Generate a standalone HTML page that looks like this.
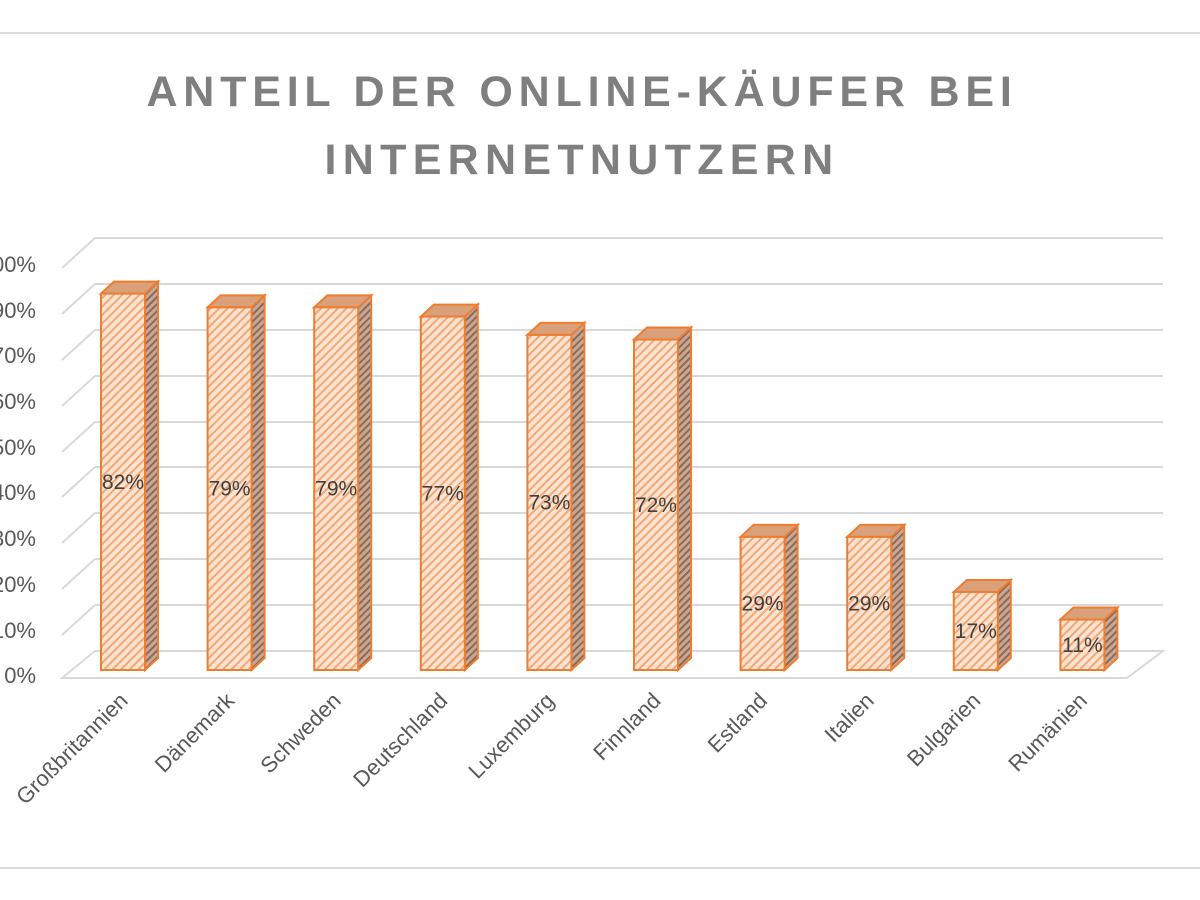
<!DOCTYPE html>
<html><head><meta charset="utf-8"><style>body{margin:0;background:#fff}svg{display:block}</style></head><body>
<svg width="1200" height="900" xmlns="http://www.w3.org/2000/svg" font-family="Liberation Sans, sans-serif">
<defs>
<pattern id="h" width="6" height="6" patternUnits="userSpaceOnUse" patternTransform="rotate(45)">
<rect width="6" height="6" fill="#fbe3d0"/><rect width="2" height="6" fill="#f0a878"/></pattern>
<pattern id="hs" width="5" height="5" patternUnits="userSpaceOnUse" patternTransform="rotate(45)">
<rect width="5" height="5" fill="#c8a894"/><rect width="2" height="5" fill="#8a6a58"/></pattern>
</defs>
<rect width="1200" height="900" fill="#fff"/>
<line x1="0" y1="33" x2="1200" y2="33" stroke="#ddd" stroke-width="2"/>
<line x1="0" y1="868" x2="1200" y2="868" stroke="#ddd" stroke-width="2"/>
<text x="582" y="106" text-anchor="middle" font-size="43" font-weight="bold" fill="#7f7f7f" letter-spacing="5.8">ANTEIL DER ONLINE-KÄUFER BEI</text>
<text x="582" y="174" text-anchor="middle" font-size="43" font-weight="bold" fill="#7f7f7f" letter-spacing="6.3">INTERNETNUTZERN</text>
<g stroke="#d9d9d9" stroke-width="2" fill="none">
<path d="M95 238H1163M95 284H1163M95 330H1163M95 376H1163M95 422H1163M95 467H1163M95 513H1163M95 559H1163M95 605H1163"/>
<path d="M62 268L95 238M62 314L95 284M62 360L95 330M62 406L95 376M62 452L95 422M62 497L95 467M62 543L95 513M62 589L95 559M62 635L95 605"/>
<path d="M62 678L95 651H1163L1127 678Z"/>
</g>
<g font-size="22" fill="#595959" text-anchor="end">
<text x="36" y="272">00%</text><text x="36" y="318">90%</text><text x="36" y="363">70%</text><text x="36" y="409">60%</text><text x="36" y="455">50%</text><text x="36" y="500">40%</text><text x="36" y="546">30%</text><text x="36" y="592">20%</text><text x="36" y="638">10%</text><text x="36" y="683">0%</text>
</g>
<g id="bars" stroke="#ed7d31" stroke-width="2"></g>
<g font-size="21" fill="#404040" text-anchor="middle" id="lbl"></g>
<g font-size="22" fill="#595959" text-anchor="end" id="cat"></g>
<script>
var d=[["Großbritannien",82],["Dänemark",79],["Schweden",79],["Deutschland",77],["Luxemburg",73],["Finnland",72],["Estland",29],["Italien",29],["Bulgarien",17],["Rumänien",11]];
var ns="http://www.w3.org/2000/svg",b=document.getElementById("bars"),l=document.getElementById("lbl"),c=document.getElementById("cat");
function el(p,t,a,tx){var e=document.createElementNS(ns,t);for(var k in a)e.setAttribute(k,a[k]);if(tx)e.textContent=tx;p.appendChild(e);}
d.forEach(function(v,i){var x=101+i*106.6,w=44,bot=670,top=bot-v[1]*4.59,dx=13,dy=12;
el(b,"path",{d:"M"+(x+w)+" "+top+"l"+dx+" "+(-dy)+"V"+(bot-dy)+"l"+(-dx)+" "+dy+"Z",fill:"url(#hs)"});
el(b,"path",{d:"M"+x+" "+top+"l"+dx+" "+(-dy)+"h"+w+"l"+(-dx)+" "+dy+"Z",fill:"#d9a07a"});
el(b,"rect",{x:x,y:top,width:w,height:bot-top,fill:"url(#h)"});
el(l,"text",{x:x+w/2,y:(top+bot)/2+7},v[1]+"%");
var cx=x+w/2+6,cy=702;el(c,"text",{x:cx,y:cy,transform:"rotate(-45 "+cx+" "+cy+")"},v[0]);});
</script>
</svg>
</body></html>
